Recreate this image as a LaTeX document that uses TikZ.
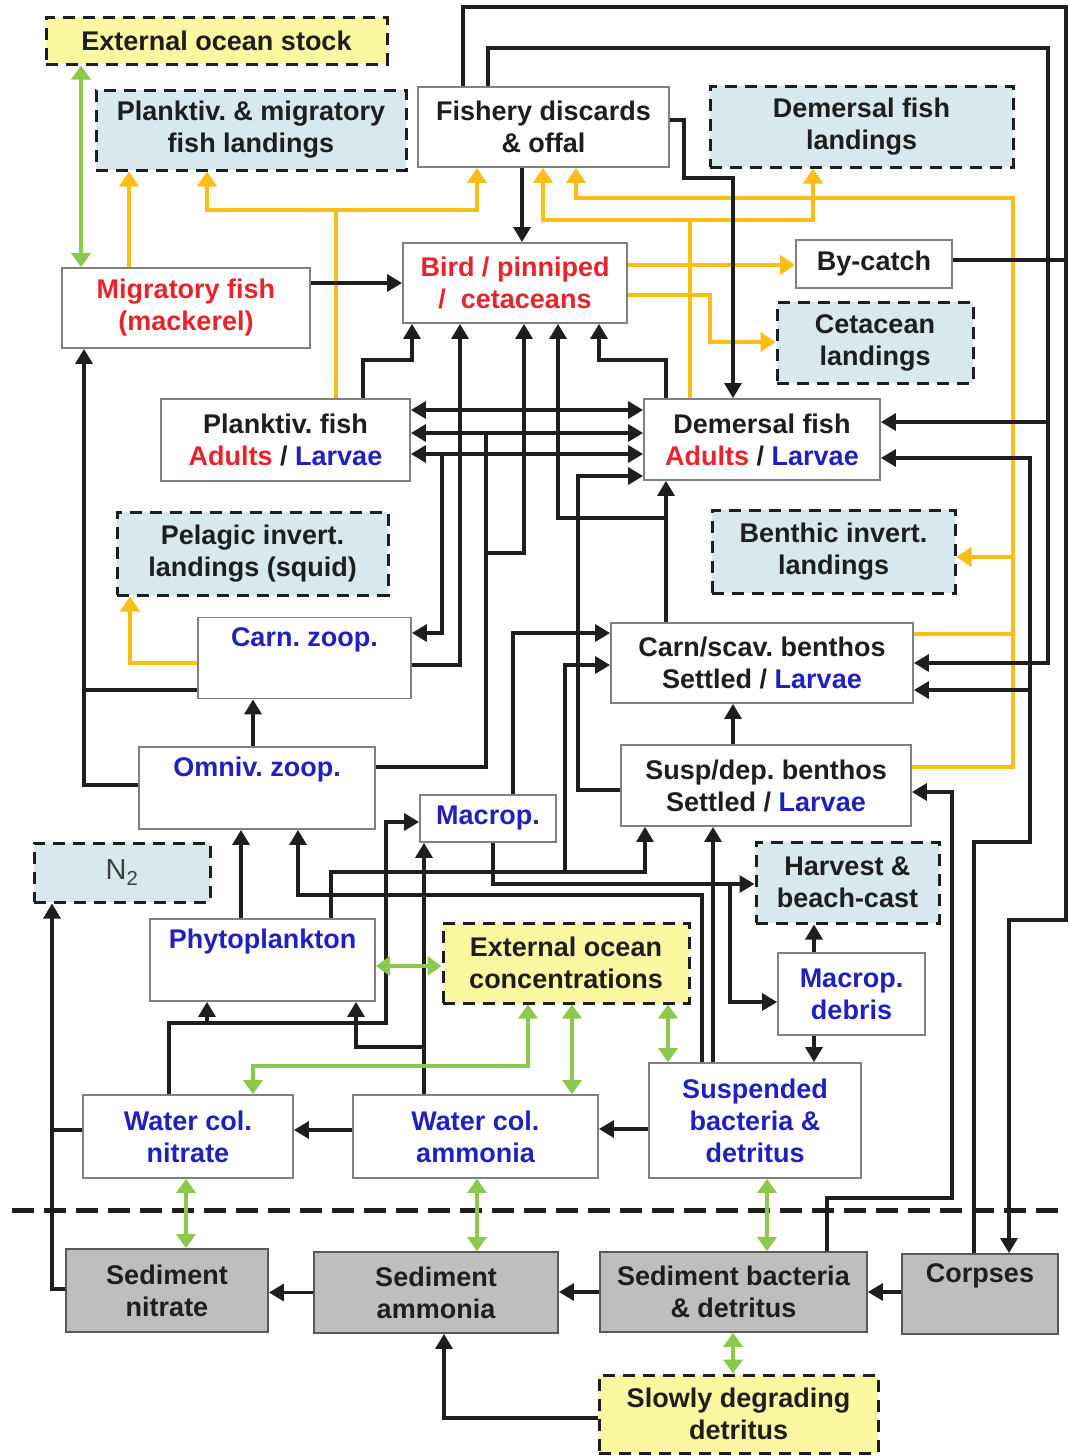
\documentclass[tikz,border=0pt]{standalone}
\usepackage{fontspec}
\setmainfont{Liberation Sans}
\usetikzlibrary{arrows.meta}
\definecolor{yfill}{HTML}{FAF8A0}
\definecolor{bfill}{HTML}{D8E8EC}
\definecolor{gfill}{HTML}{BEBEBE}
\definecolor{gold}{HTML}{FBBE14}
\definecolor{lgreen}{HTML}{8CC84B}
\definecolor{rtext}{HTML}{E8232A}
\definecolor{btext}{HTML}{2020BE}
\definecolor{ktext}{HTML}{1E1E1E}
\definecolor{bord}{HTML}{808080}
\begin{document}
\begin{tikzpicture}[x=1pt,y=-1pt,
 every node/.style={font=\fontsize{27}{32}\selectfont\bfseries\frenchspacing, text=ktext, align=center, inner sep=0pt},
 box/.style={draw=bord, line width=1.8pt, fill=white},
 sbox/.style={draw=gray!70!black, line width=1.8pt, fill=gfill},
 dbox/.style={draw=ktext, line width=3pt, dash pattern=on 12pt off 8pt},
 ybox/.style={dbox, fill=yfill},
 lbox/.style={dbox, fill=bfill},
 blk/.style={draw=ktext, line width=3.2pt},
 ar/.style={-{Triangle[length=15pt,width=17pt]}},
 dar/.style={{Triangle[length=15pt,width=17pt]}-{Triangle[length=15pt,width=17pt]}},
 yel/.style={draw=gold, line width=4pt, -{Triangle[length=15pt,width=19pt]}},
 yln/.style={draw=gold, line width=4pt},
 grn/.style={draw=lgreen, line width=4pt, {Triangle[length=14pt,width=19pt]}-{Triangle[length=14pt,width=19pt]}},
]
\useasboundingbox[fill=white] (0,0) rectangle (1068,1456);

% ---------------- nodes ----------------
\node[ybox, minimum width=341pt, minimum height=47pt] (extstock) at (216.5,40.5) {External ocean stock};
\node[lbox, minimum width=310pt, minimum height=80pt] (pmland) at (251,130) {Planktiv. \& migratory\\fish landings};
\node[box, minimum width=251pt, minimum height=80pt] (discards) at (543.5,127) {Fishery discards\\\& offal};
\node[lbox, minimum width=303pt, minimum height=81pt] (dland) at (861.5,126.5) {Demersal fish\\landings};
\node[box, minimum width=248pt, minimum height=80pt, text=rtext] (migr) at (186,308) {Migratory fish\\(mackerel)};
\node[box, minimum width=224pt, minimum height=80pt, text=rtext] (bird) at (515,283) {Bird / pinniped\\/\ \ cetaceans};
\node[box, minimum width=156pt, minimum height=48pt] (bycatch) at (874,264) {By-catch};
\node[lbox, minimum width=196pt, minimum height=81pt] (cetland) at (875,342.5) {Cetacean\\landings};
\node[box, minimum width=249pt, minimum height=82pt] (pfish) at (285.5,440) {Planktiv. fish\\\textcolor{rtext}{Adults} / \textcolor{btext}{Larvae}};
\node[box, minimum width=236pt, minimum height=81pt] (dfish) at (762,439.5) {Demersal fish\\\textcolor{rtext}{Adults} / \textcolor{btext}{Larvae}};
\node[lbox, minimum width=271pt, minimum height=83pt] (pelland) at (252.5,553.5) {Pelagic invert.\\landings (squid)};
\node[lbox, minimum width=243pt, minimum height=83pt] (bland) at (833.5,551.5) {Benthic invert.\\landings};
\node[box, minimum width=213pt, minimum height=81pt, text=btext] (czoop) at (304.5,658) {Carn. zoop.\\\strut};
\node[box, minimum width=302pt, minimum height=80pt] (cben) at (762,663) {Carn/scav. benthos\\Settled / \textcolor{btext}{Larvae}};
\node[box, minimum width=236pt, minimum height=82pt, text=btext] (ozoop) at (257,788) {Omniv. zoop.\\\strut};
\node[box, minimum width=290pt, minimum height=81pt] (sben) at (766,785.5) {Susp/dep. benthos\\Settled / \textcolor{btext}{Larvae}};
\node[box, minimum width=136pt, minimum height=47pt, text=btext] (macrop) at (488,818.5) {Macrop.};
\node[lbox, minimum width=176pt, minimum height=59pt, font=\fontsize{29}{32}\selectfont\mdseries, text=ktext!85] (n2) at (122,872.5) {N\textsubscript{2}};
\node[lbox, minimum width=183pt, minimum height=81pt] (harvest) at (847.5,882.5) {Harvest \&\\beach-cast};
\node[box, minimum width=225pt, minimum height=82pt, text=btext] (phyto) at (262.5,960) {Phytoplankton\\\strut};
\node[ybox, minimum width=246pt, minimum height=80pt] (extconc) at (566,963) {External ocean\\concentrations};
\node[box, minimum width=147pt, minimum height=82pt, text=btext] (debris) at (851.5,994) {Macrop.\\debris};
\node[box, minimum width=212pt, minimum height=115pt, text=btext] (suspb) at (755,1120.5) {Suspended\\bacteria \&\\detritus};
\node[box, minimum width=210pt, minimum height=83pt, text=btext] (wcn) at (188,1136.5) {Water col.\\nitrate};
\node[box, minimum width=245pt, minimum height=83pt, text=btext] (wca) at (475.5,1136.5) {Water col.\\ammonia};
\node[sbox, minimum width=202pt, minimum height=83pt] (sedn) at (167,1290.5) {Sediment\\nitrate};
\node[sbox, minimum width=244pt, minimum height=81pt] (seda) at (436,1292.5) {Sediment\\ammonia};
\node[sbox, minimum width=267pt, minimum height=80pt] (sedb) at (733.5,1292) {Sediment bacteria\\\& detritus};
\node[sbox, minimum width=156pt, minimum height=80pt] (corpses) at (980,1294) {Corpses\\\strut};
\node[ybox, minimum width=279pt, minimum height=78pt] (slowly) at (738.5,1414) {Slowly degrading\\detritus};

% divider between water column and sediment
\draw[draw=ktext, line width=5pt, dash pattern=on 22pt off 10pt] (12,1210) -- (1068,1210);

% ---------------- yellow (fishing) ----------------
\draw[yel] (129,0 |- migr.north) -- (129,0 |- pmland.south);
\draw[yel] (336,0 |- pfish.north) |- (207,210) -- (207,0 |- pmland.south);
\draw[yel] (336,210) -| (477,0 |- discards.south);
\draw[yel] (690,0 |- dfish.north) |- (543,220) -- (543,0 |- discards.south);
\draw[yel] (690,220) -| (813,0 |- dland.south);
\draw[yel] (sben.east |- 0,767) -| (1013,198) -| (576,0 |- discards.south);
\draw[yln] (cben.east |- 0,634) -- (1013,634);
\draw[yel] (1013,557) -- (bland.east |- 0,557);
\draw[yel] (bird.east |- 0,265) -- (bycatch.west |- 0,265);
\draw[yel] (bird.east |- 0,295) -| (710,342) -- (cetland.west |- 0,342);
\draw[yel] (czoop.west |- 0,663) -| (130,0 |- pelland.south);

% ---------------- black (flows) ----------------
\draw[blk,ar] (522,0 |- discards.south) -- (522,0 |- bird.north);
\draw[blk,ar] (migr.east |- 0,283) -- (bird.west |- 0,283);
\draw[blk,ar] (discards.east |- 0,120) -- (684,120) -- (684,178) -- (733,178) -- (733,0 |- dfish.north);
\draw[blk,ar] (463,0 |- discards.north) |- (1066,7) |- (1009,920) -- (1009,0 |- corpses.north);
\draw[blk] (bycatch.east |- 0,260) -- (1066,260);
\draw[blk,ar] (488,0 |- discards.north) |- (1048,48) |- (cben.east |- 0,663);
\draw[blk,ar] (1048,422) -- (dfish.east |- 0,422);
\draw[blk,ar] (974,0 |- corpses.north) |- (1030,842) |- (dfish.east |- 0,458);
\draw[blk,ar] (1030,690) -- (cben.east |- 0,690);
\draw[blk,ar] (827,0 |- sedb.north) |- (952,1198) |- (sben.east |- 0,792);
\draw[blk,ar] (corpses.west |- 0,1292) -- (sedb.east |- 0,1292);
\draw[blk,ar] (sedb.west) -- (seda.east |- sedb.west);
\draw[blk,ar] (seda.west) -- (sedn.east |- seda.west);
\draw[blk,ar] (slowly.west |- 0,1418) -| (444,0 |- seda.south);
\draw[blk,ar] (wca.west |- 0,1130) -- (wcn.east |- 0,1130);
\draw[blk,ar] (suspb.west |- 0,1129) -- (wca.east |- 0,1129);
\draw[blk,ar] (sedn.west |- 0,1289) -| (52,0 |- n2.south);
\draw[blk] (wcn.west |- 0,1130) -- (52,1130);
\draw[blk,ar] (169,0 |- wcn.north) |- (386,1023) |- (macrop.west |- 0,822);
\draw[blk,ar] (207,1023) -- (207,0 |- phyto.south);
\draw[blk,ar] (424,0 |- wca.north) -- (424,0 |- macrop.south);
\draw[blk,ar] (424,1047) -| (356,0 |- phyto.south);
\draw[blk,ar] (241,0 |- phyto.north) -- (241,0 |- ozoop.south);
\draw[blk,ar] (331,0 |- phyto.north) |- (645,872) -- (645,0 |- sben.south);
\draw[blk,ar] (565,872) |- (cben.west |- 0,665);
\draw[blk,ar] (493,0 |- macrop.south) |- (harvest.west |- 0,884);
\draw[blk,ar] (730,884) |- (debris.west |- 0,1002);
\draw[blk,ar] (702,0 |- suspb.north) |- (298,895) -- (298,0 |- ozoop.south);
\draw[blk,ar] (713,0 |- suspb.north) -- (713,0 |- sben.south);
\draw[blk,ar] (814,0 |- debris.north) -- (814,0 |- harvest.south);
\draw[blk,ar] (814,0 |- debris.south) -- (814,0 |- suspb.north);
\draw[blk,ar] (733,0 |- sben.north) -- (733,0 |- cben.south);
\draw[blk,ar] (sben.west |- 0,790) -| (578,476) -- (dfish.west |- 0,476);
\draw[blk,ar] (666,0 |- cben.north) -- (666,0 |- dfish.south);
\draw[blk,ar] (666,518) -| (558,0 |- bird.south);
\draw[blk,ar] (513,0 |- macrop.north) |- (cben.west |- 0,633);
\draw[blk,ar] (363,0 |- pfish.north) |- (412,360) -- (412,0 |- bird.south);
\draw[blk,ar] (666,0 |- dfish.north) |- (599,360) -- (599,0 |- bird.south);
\draw[blk,dar] (pfish.east |- 0,410) -- (dfish.west |- 0,410);
\draw[blk,dar] (pfish.east |- 0,433) -- (dfish.west |- 0,433);
\draw[blk,dar] (pfish.east |- 0,454) -- (dfish.west |- 0,454);
\draw[blk] (ozoop.east |- 0,767) -| (486,433);
\draw[blk,ar] (486,553) -| (524,0 |- bird.south);
\draw[blk,ar] (442,454) |- (czoop.east |- 0,633);
\draw[blk,ar] (czoop.east |- 0,665) -| (460,0 |- bird.south);
\draw[blk,ar] (ozoop.west |- 0,785) -| (84,0 |- migr.south);
\draw[blk] (czoop.west |- 0,690) -- (84,690);
\draw[blk,ar] (253,0 |- ozoop.north) -- (253,0 |- czoop.south);

% ---------------- green (exchanges) ----------------
\draw[grn] (81,0 |- extstock.south) -- (81,0 |- migr.north);
\draw[grn] (phyto.east |- 0,966) -- (extconc.west |- 0,966);
\draw[grn] (528,0 |- extconc.south) |- (253,1066) -- (253,0 |- wcn.north);
\draw[grn] (572,0 |- extconc.south) -- (572,0 |- wca.north);
\draw[grn] (668,0 |- extconc.south) -- (668,0 |- suspb.north);
\draw[grn] (186,0 |- wcn.south) -- (186,0 |- sedn.north);
\draw[grn] (477,0 |- wca.south) -- (477,0 |- seda.north);
\draw[grn] (767,0 |- suspb.south) -- (767,0 |- sedb.north);
\draw[grn] (733,0 |- sedb.south) -- (733,0 |- slowly.north);
\end{tikzpicture}
\end{document}
